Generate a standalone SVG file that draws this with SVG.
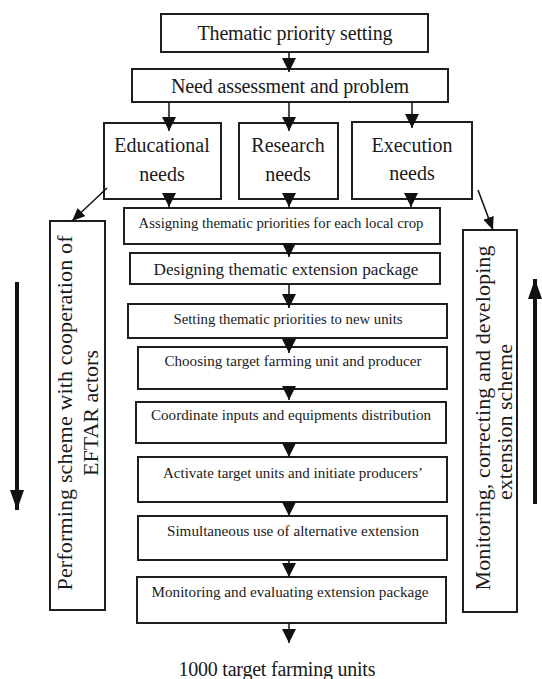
<svg xmlns="http://www.w3.org/2000/svg" width="542" height="679" viewBox="0 0 542 679">
  <style>
    .box { fill: #ffffff; stroke: #1e1e1e; stroke-width: 2; }
    .big { font-family: "Liberation Serif", "Times New Roman", serif; font-size: 20px; fill: #1a1a1a; text-anchor: middle; }
    .small { font-family: "Liberation Serif", "Times New Roman", serif; font-size: 15px; fill: #1a1a1a; text-anchor: middle; }
    .mid { font-family: "Liberation Serif", "Times New Roman", serif; font-size: 17px; fill: #1a1a1a; text-anchor: middle; }
    .side { font-family: "Liberation Serif", "Times New Roman", serif; font-size: 22px; fill: #1a1a1a; text-anchor: middle; }
    .link { stroke: #111111; stroke-width: 1.5; fill: none; }
    .thick { stroke: #111111; stroke-width: 4; fill: none; }
  </style>
  <defs>
    <marker id="head" viewBox="0 0 14 14" markerUnits="userSpaceOnUse" markerWidth="14" markerHeight="14" refX="14" refY="7" orient="auto">
      <path d="M0,0 L14,7 L0,14 z" fill="#111111"/>
    </marker>
    <marker id="headSide" viewBox="0 0 13 11" markerUnits="userSpaceOnUse" markerWidth="13" markerHeight="11" refX="13" refY="5.5" orient="auto">
      <path d="M0,0 L13,5.5 L0,11 z" fill="#111111"/>
    </marker>
    <marker id="headBig" viewBox="0 0 20 14" markerUnits="userSpaceOnUse" markerWidth="20" markerHeight="14" refX="20" refY="7" orient="auto">
      <path d="M0,0 L20,7 L0,14 z" fill="#111111"/>
    </marker>
  </defs>

  <rect width="542" height="679" fill="#ffffff"/>

  <g id="thematic-priority-setting">
    <rect class="box" x="161" y="14" width="267" height="38"/>
    <text class="big" x="295" y="40" textLength="195">Thematic priority setting</text>
  </g>
  <g id="need-assessment">
    <rect class="box" x="132" y="69" width="316" height="33"/>
    <text class="big" x="290" y="93" textLength="238">Need assessment and problem</text>
  </g>
  <g id="educational-needs">
    <rect class="box" x="104" y="123" width="117" height="76"/>
    <text class="big" x="162" y="152">Educational</text>
    <text class="big" x="162" y="181">needs</text>
  </g>
  <g id="research-needs">
    <rect class="box" x="239" y="123" width="99" height="76"/>
    <text class="big" x="288" y="152">Research</text>
    <text class="big" x="288" y="181">needs</text>
  </g>
  <g id="execution-needs">
    <rect class="box" x="352" y="122" width="120" height="77"/>
    <text class="big" x="412" y="152">Execution</text>
    <text class="big" x="412" y="180">needs</text>
  </g>
  <g id="assigning-priorities">
    <rect class="box" x="124" y="208" width="316" height="36"/>
    <text class="small" x="281" y="228" textLength="285" lengthAdjust="spacingAndGlyphs">Assigning thematic priorities for each local crop</text>
  </g>
  <g id="designing-package">
    <rect class="box" x="130" y="253" width="310" height="31"/>
    <text class="mid" x="286" y="275" textLength="265" lengthAdjust="spacingAndGlyphs">Designing thematic extension package</text>
  </g>
  <g id="setting-priorities">
    <rect class="box" x="128" y="304" width="319" height="34"/>
    <text class="small" x="288" y="324" textLength="229" lengthAdjust="spacingAndGlyphs">Setting thematic priorities to new units</text>
  </g>
  <g id="choosing-target">
    <rect class="box" x="138" y="347" width="309" height="42"/>
    <text class="small" x="293" y="366" textLength="257" lengthAdjust="spacingAndGlyphs">Choosing target farming unit and producer</text>
  </g>
  <g id="coordinate-inputs">
    <rect class="box" x="136" y="402" width="310" height="41"/>
    <text class="small" x="291" y="420" textLength="280" lengthAdjust="spacingAndGlyphs">Coordinate inputs and equipments distribution</text>
  </g>
  <g id="activate-units">
    <rect class="box" x="138" y="457" width="309" height="45"/>
    <text class="small" x="293" y="478" textLength="260" lengthAdjust="spacingAndGlyphs">Activate target units and initiate producers’</text>
  </g>
  <g id="simultaneous-use">
    <rect class="box" x="138" y="516" width="309" height="44"/>
    <text class="small" x="293" y="536" textLength="252" lengthAdjust="spacingAndGlyphs">Simultaneous use of alternative extension</text>
  </g>
  <g id="monitoring-evaluating">
    <rect class="box" x="137" y="577" width="309" height="46"/>
    <text class="small" x="290" y="597" textLength="277" lengthAdjust="spacingAndGlyphs">Monitoring and evaluating extension package</text>
  </g>
  <g id="target-units">
    <text class="big" x="277" y="676" textLength="197">1000 target farming units</text>
  </g>
  <g id="performing-scheme">
    <rect class="box" x="50" y="221" width="55" height="389"/>
    <text class="side" transform="translate(72,413) rotate(-90)" textLength="355">Performing scheme with cooperation of</text>
    <text class="side" transform="translate(98,413) rotate(-90)">EFTAR actors</text>
  </g>
  <g id="monitoring-correcting">
    <rect class="box" x="463" y="230" width="54" height="382"/>
    <text class="side" transform="translate(490,418) rotate(-90)" textLength="345">Monitoring, correcting and developing</text>
    <text class="side" transform="translate(512,422) rotate(-90)">extension scheme</text>
  </g>

  <g id="connectors">
    <line class="link" x1="289" y1="52" x2="289" y2="72" marker-end="url(#head)"/>
    <line class="link" x1="169" y1="102" x2="169" y2="131" marker-end="url(#head)"/>
    <line class="link" x1="289" y1="102" x2="289" y2="131" marker-end="url(#head)"/>
    <line class="link" x1="412" y1="102" x2="412" y2="128" marker-end="url(#head)"/>
    <line class="link" x1="169" y1="199" x2="169" y2="207" marker-end="url(#head)"/>
    <line class="link" x1="289" y1="199" x2="289" y2="207" marker-end="url(#head)"/>
    <line class="link" x1="411" y1="199" x2="411" y2="207" marker-end="url(#head)"/>
    <line class="link" x1="289" y1="244" x2="289" y2="257" marker-end="url(#head)"/>
    <line class="link" x1="289" y1="284" x2="289" y2="308" marker-end="url(#head)"/>
    <line class="link" x1="289" y1="338" x2="289" y2="353" marker-end="url(#head)"/>
    <line class="link" x1="289" y1="389" x2="289" y2="400" marker-end="url(#head)"/>
    <line class="link" x1="289" y1="443" x2="289" y2="457" marker-end="url(#head)"/>
    <line class="link" x1="289" y1="502" x2="289" y2="516" marker-end="url(#head)"/>
    <line class="link" x1="289" y1="560" x2="289" y2="577" marker-end="url(#head)"/>
    <line class="link" x1="289" y1="623" x2="289" y2="643" marker-end="url(#head)"/>
    <line class="link" x1="107" y1="188" x2="72" y2="221" marker-end="url(#headSide)"/>
    <line class="link" x1="478" y1="190" x2="493" y2="230" marker-end="url(#headSide)"/>
    <line class="thick" x1="17" y1="282" x2="17" y2="510" marker-end="url(#headBig)"/>
    <line class="thick" x1="535" y1="504" x2="535" y2="279" marker-end="url(#headBig)"/>
  </g>
</svg>
